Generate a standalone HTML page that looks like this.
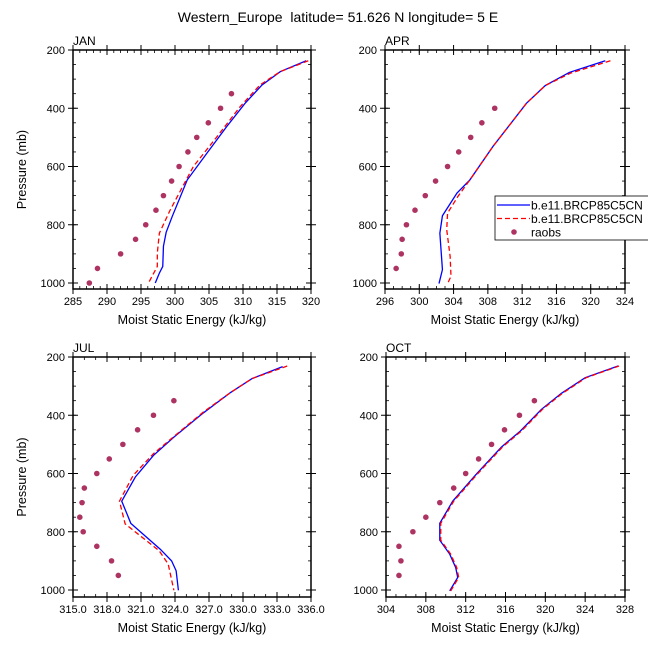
<!DOCTYPE html>
<html><head><meta charset="utf-8"><style>
html,body{margin:0;padding:0;background:#fff}
svg{display:block;font-family:"Liberation Sans",sans-serif}
</style></head><body>
<svg id="chart" width="648" height="649" viewBox="0 0 648 649" xmlns="http://www.w3.org/2000/svg">
<text x="338" y="22" font-size="14" text-anchor="middle" xml:space="preserve" style="white-space:pre">Western_Europe  latitude= 51.626 N longitude= 5 E</text>
</svg>
<script>
// ---- data ----
const janBlueP=[237,274,320,383,463,554,646,771,826,874,943,966,1000];
const janBlueV=[319.3,315.5,312.8,310.3,307.6,304.7,301.8,299.6,298.7,298.3,298.2,297.7,297.1];
const janRedP=[237,274,320,394,497,600,749,829,897,943,1000];
const janRedV=[319.6,315.5,312.5,309.6,306.2,302.7,299.3,297.7,297.4,297.4,296.1];
const janObsP=[350,400,450,500,550,600,650,700,750,800,850,900,950,1000];
const janObsV=[308.3,306.7,304.9,303.2,301.9,300.6,299.5,298.3,297.2,295.7,294.2,292.0,288.6,287.4];

const aprBlueP=[237,277,322,383,531,646,691,769,829,954,1002];
const aprBlueV=[321.7,317.5,314.7,312.5,308.6,305.9,304.4,302.7,302.4,302.7,302.3];
const aprRedP=[237,280,322,383,531,646,703,760,817,909,977,1002];
const aprRedV=[322.3,317.6,314.7,312.5,308.6,305.9,304.5,303.3,303.2,303.6,303.7,303.3];
const aprObsP=[400,450,500,550,600,650,700,750,800,850,900,950];
const aprObsV=[308.8,307.3,306.0,304.6,303.3,301.9,300.7,299.5,298.5,298.0,297.9,297.3];

const julBlueP=[233,274,322,392,475,538,612,695,771,860,900,934,1001];
const julBlueV=[333.5,330.8,328.9,326.5,323.9,322.1,320.5,319.3,320.1,322.7,323.7,324.1,324.3];
const julRedP=[231,274,322,389,473,532,607,695,773,865,911,1001];
const julRedV=[333.9,330.8,328.9,326.5,323.9,322.1,320.3,319.1,319.6,322.6,323.4,323.9];
const julObsP=[350,400,450,500,550,600,650,700,750,800,850,900,950];
const julObsV=[323.9,322.1,320.7,319.4,318.2,317.1,316.0,315.8,315.6,315.9,317.1,318.4,319.0];

const octBlueP=[231,271,325,380,454,509,601,695,771,829,877,923,957,1003];
const octBlueV=[327.3,324.0,321.6,319.6,317.5,315.6,313.1,310.7,309.4,309.4,310.4,311.0,311.2,310.4];
const octRedP=[231,271,325,380,454,509,601,695,771,829,877,923,957,1003];
const octRedV=[327.4,324.1,321.7,319.7,317.6,315.7,313.2,310.8,309.5,309.5,310.5,311.1,311.3,310.5];
const octObsP=[350,400,450,500,550,600,650,700,750,800,850,900,950];
const octObsV=[318.9,317.4,315.9,314.6,313.3,312.0,310.8,309.4,308.0,306.7,305.3,305.5,305.3];

const pTicks=[200,400,600,800,1000];
const janTicks=[285,290,295,300,305,310,315,320];
const aprTicks=[296,300,304,308,312,316,320,324];
const julTicks=[315,318,321,324,327,330,333,336];
const octTicks=[304,308,312,316,320,324,328];
const legendLabels=["b.e11.BRCP85C5CN","b.e11.BRCP85C5CN","raobs"];

const svg=document.getElementById('chart');
const NS="http://www.w3.org/2000/svg";
function mk(tag,attrs,parent){const e=document.createElementNS(NS,tag);for(const k in attrs)e.setAttribute(k,attrs[k]);(parent||svg).appendChild(e);return e;}

function panel(cfg){
  const g=mk('g',{});
  
  
  const {x0,x1,y0,y1,xmin,xmax}=cfg;
  const X=v=>x0+(v-xmin)/(xmax-xmin)*(x1-x0);
  const Y=p=>y0+(p-200)*0.29125;
  const lbl=mk('text',{x:x0,y:y0-5,'font-size':12},g);lbl.textContent=cfg.label;
  
  
  for(let v=xmin;v<=xmax+1e-6;v+=cfg.minor){const x=X(v);
    mk('line',{x1:x,x2:x,y1:y0,y2:y0+3,stroke:'#000','stroke-width':0.8},g);
    mk('line',{x1:x,x2:x,y1:y1,y2:y1-3,stroke:'#000','stroke-width':0.8},g);}
  for(let p=250;p<1020;p+=50){const y=Y(p);
    mk('line',{x1:x0,x2:x0+3,y1:y,y2:y,stroke:'#000','stroke-width':0.8},g);
    mk('line',{x1:x1,x2:x1-3,y1:y,y2:y,stroke:'#000','stroke-width':0.8},g);}
  cfg.ticks.forEach(v=>{const x=X(v);
    mk('line',{x1:x,x2:x,y1:y0-5,y2:y0+5,stroke:'#000','stroke-width':1},g);
    mk('line',{x1:x,x2:x,y1:y1-5,y2:y1+5,stroke:'#000','stroke-width':1},g);
    const t=mk('text',{x:x,y:y1+16,'font-size':11,'text-anchor':'middle'},g);
    t.textContent=cfg.fmt?v.toFixed(1):v;
    
    });
  pTicks.forEach(p=>{const y=Y(p);
    mk('line',{x1:x0-5,x2:x0+5,y1:y,y2:y,stroke:'#000','stroke-width':1},g);
    mk('line',{x1:x1-5,x2:x1+5,y1:y,y2:y,stroke:'#000','stroke-width':1},g);
    const t=mk('text',{x:x0-8,y:y+4,'font-size':11,'text-anchor':'end'},g);t.textContent=p;
    
    });
  const box=mk('rect',{x:x0,y:y0,width:x1-x0,height:y1-y0,fill:'none',stroke:'#000','stroke-width':1.5},g);
  
  
  const xt=mk('text',{x:(x0+x1)/2,y:y1+35,'font-size':12.5,'text-anchor':'middle'},g);
  xt.textContent='Moist Static Energy (kJ/kg)';
  
  
  if(cfg.ytitle){const yc=(y0+y1)/2;const yt=mk('text',{x:26,y:yc,'font-size':12.5,'text-anchor':'middle',transform:`rotate(-90 26 ${yc})`},g);
    yt.textContent='Pressure (mb)';
    
    }
  const line=(P,V,color,dash,name)=>{const pl=mk('polyline',{points:P.map((p,i)=>X(V[i])+','+Y(p)).join(' '),fill:'none',stroke:color,'stroke-width':1.3,'stroke-dasharray':dash},g);
    
    };
  line(cfg.bp,cfg.bv,'#0000ff','none','model-line-1');
  line(cfg.rp,cfg.rv,'#ff0000','5,3','model-line-2');
  cfg.op.forEach((p,i)=>{const c=mk('circle',{cx:X(cfg.ov[i]),cy:Y(p),r:2.8,fill:'#ad3462'},g);
    
    });
}
panel({name:'jan',label:'JAN',x0:73,x1:311,y0:50,y1:289,xmin:285,xmax:320,minor:1,ticks:janTicks,ytitle:true,bp:janBlueP,bv:janBlueV,rp:janRedP,rv:janRedV,op:janObsP,ov:janObsV});
panel({name:'apr',label:'APR',x0:385,x1:625,y0:50,y1:289,xmin:296,xmax:324,minor:1,ticks:aprTicks,bp:aprBlueP,bv:aprBlueV,rp:aprRedP,rv:aprRedV,op:aprObsP,ov:aprObsV});
panel({name:'jul',label:'JUL',x0:73,x1:311,y0:357,y1:597,xmin:315,xmax:336,minor:1,ticks:julTicks,fmt:true,ytitle:true,bp:julBlueP,bv:julBlueV,rp:julRedP,rv:julRedV,op:julObsP,ov:julObsV});
panel({name:'oct',label:'OCT',x0:386,x1:625,y0:357,y1:597,xmin:304,xmax:328,minor:1,ticks:octTicks,bp:octBlueP,bv:octBlueV,rp:octRedP,rv:octRedV,op:octObsP,ov:octObsV});

const lg=mk('g',{});


mk('rect',{x:495,y:196,width:160,height:44,fill:'#fff',stroke:'#000','stroke-width':0.8},lg);
const styles=[['#0000ff','none'],['#ff0000','5,3'],null];
legendLabels.forEach((s,i)=>{const y=205+i*13.5;
  if(styles[i]){const l=mk('line',{x1:497,x2:530,y1:y,y2:y,stroke:styles[i][0],'stroke-width':1.3,'stroke-dasharray':styles[i][1]},lg);
    
    }
  else{const c=mk('circle',{cx:514,cy:y,r:2.8,fill:'#ad3462'},lg);
    
    }
  const t=mk('text',{x:531,y:y+4.5,'font-size':12},lg);t.textContent=s;
  
  
});
</script>
</body></html>
